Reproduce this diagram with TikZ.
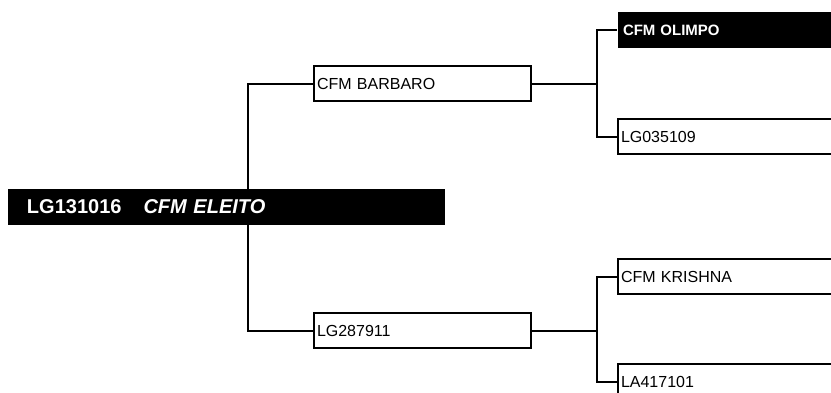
\documentclass[tikz,border=0pt]{standalone}
\usepackage{fontspec}
\setmainfont{Liberation Sans}
\usetikzlibrary{backgrounds}
\begin{document}
\begin{tikzpicture}[x=1pt,y=-1pt,line width=2pt,
  box/.style={draw, fill=white, rectangle, anchor=north west, minimum height=35pt,
    text width=#1, inner xsep=3pt, inner ysep=0pt, align=left,
    font=\fontsize{16}{18}\selectfont},
  darkbox/.style={fill=black, text=white, rectangle, anchor=north west,
    inner ysep=0pt, align=left, font=\bfseries\fontsize{15}{18}\selectfont},
  link/.style={draw=black, line width=2pt}]
\useasboundingbox (0,0) rectangle (831,392);
\clip (0,0) rectangle (831,392);
% second generation
\node[box=211pt] (barbaro) at (313,65) {CFM BARBARO};
\node[box=211pt] (lg287) at (313,312) {LG287911};
% third generation
\node[darkbox, minimum height=36pt, text width=240pt, inner xsep=5pt] (olimpo) at (617,11) {CFM OLIMPO};
\node[box=240pt] (lg035) at (617,118) {LG035109};
\node[box=240pt] (krishna) at (617,258) {CFM KRISHNA};
\node[box=240pt] (la417) at (617,363) {LA417101};
% root
\node[darkbox, minimum height=36pt, text width=399pt, inner xsep=19pt,
  font=\bfseries\fontsize{20}{24}\selectfont] (root) at (7,188)
  {LG131016\hspace{22pt}\textit{CFM ELEITO}};
% junctions
\coordinate (j1) at (248,206);
\coordinate (j2) at (597,82);
\coordinate (j3) at (597,329);
\begin{scope}[on background layer]
  \draw[link] (barbaro.west) -| (j1) |- (lg287.west);
\end{scope}
\draw[link] (barbaro.east) -- (barbaro.east -| j2);
\draw[link] (olimpo.west) -| (j2) |- (lg035.west);
\draw[link] (lg287.east) -- (lg287.east -| j3);
\draw[link] (krishna.west) -| (j3) |- (la417.west);
\end{tikzpicture}
\end{document}
